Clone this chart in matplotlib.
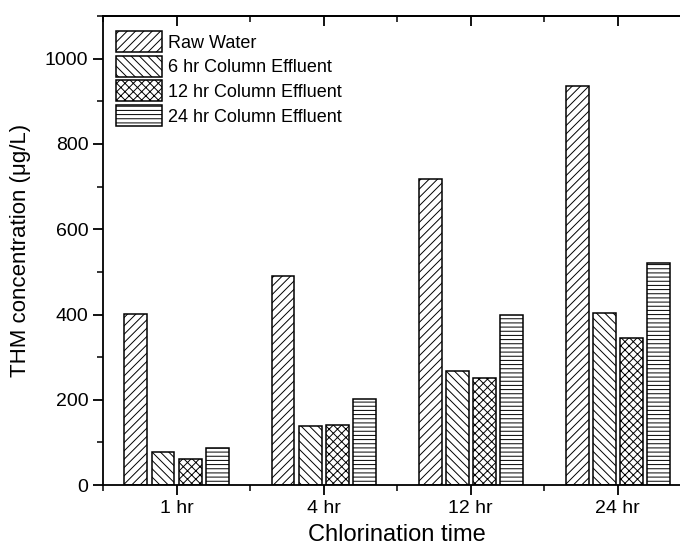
import numpy as np
import matplotlib
matplotlib.use("Agg")
import matplotlib.pyplot as plt
from matplotlib.ticker import MultipleLocator, FixedLocator

times = ["1 hr", "4 hr", "12 hr", "24 hr"]
series = ["Raw Water", "6 hr Column Effluent", "12 hr Column Effluent", "24 hr Column Effluent"]
raw_water = [401, 490, 717, 935]
effluent_6hr = [77, 138, 267, 404]
effluent_12hr = [62, 140, 251, 346]
effluent_24hr = [87, 202, 399, 522]

plt.rcParams["font.family"] = ["Liberation Sans", "DejaVu Sans"]
plt.rcParams["hatch.linewidth"] = 0.7

values = [raw_water, effluent_6hr, effluent_12hr, effluent_24hr]
hatches = ["////", "\\\\\\\\", "xxxx", "----"]

fig = plt.figure(figsize=(6.8, 5.55), dpi=100)
ax = fig.add_axes([0.1515, 0.126, 0.865, 0.845])

x = np.arange(1, len(times) + 1)
pitch = 0.184
width = 0.156
for i, (vals, name, h) in enumerate(zip(values, series, hatches)):
    offset = (i - 1.5) * pitch
    ax.bar(x + offset, vals, width, label=name, facecolor="white",
           edgecolor="black", linewidth=1.1, hatch=h)

ax.set_xlim(0.5, 4.5)
ax.set_ylim(0, 1100)
ax.set_xticks(x)
ax.set_xticklabels(times)
ax.xaxis.set_minor_locator(FixedLocator([0.5, 1.5, 2.5, 3.5, 4.5]))
ax.yaxis.set_major_locator(MultipleLocator(200))
ax.yaxis.set_minor_locator(MultipleLocator(100))

for s in ax.spines.values():
    s.set_linewidth(1.3)
ax.tick_params(axis="both", which="major", labelsize=14, length=7, width=1.3,
               direction="out")
ax.tick_params(axis="both", which="minor", length=4, width=1.1, direction="out")
ax.tick_params(axis="x", which="both", pad=4)

# top axis: ticks pointing into the plot, no labels
top = ax.secondary_xaxis("top")
top.set_xticks(x)
top.xaxis.set_minor_locator(FixedLocator([0.5, 1.5, 2.5, 3.5, 4.5]))
top.tick_params(which="major", direction="in", length=7, width=1.3, labeltop=False)
top.tick_params(which="minor", direction="in", length=4, width=1.1)
top.spines["top"].set_linewidth(1.3)

ax.set_ylabel("THM concentration (\u03bcg/L)", fontsize=16, labelpad=10)
ax.set_xlabel("Chlorination time", fontsize=17, labelpad=5)

ax.legend(loc="upper left", frameon=False, fontsize=13, handlelength=2.55,
          handleheight=1.41, labelspacing=0.2, handletextpad=0.33,
          borderaxespad=0.0, bbox_to_anchor=(0.0099, 0.983))

fig.savefig("out.png", dpi=100)
